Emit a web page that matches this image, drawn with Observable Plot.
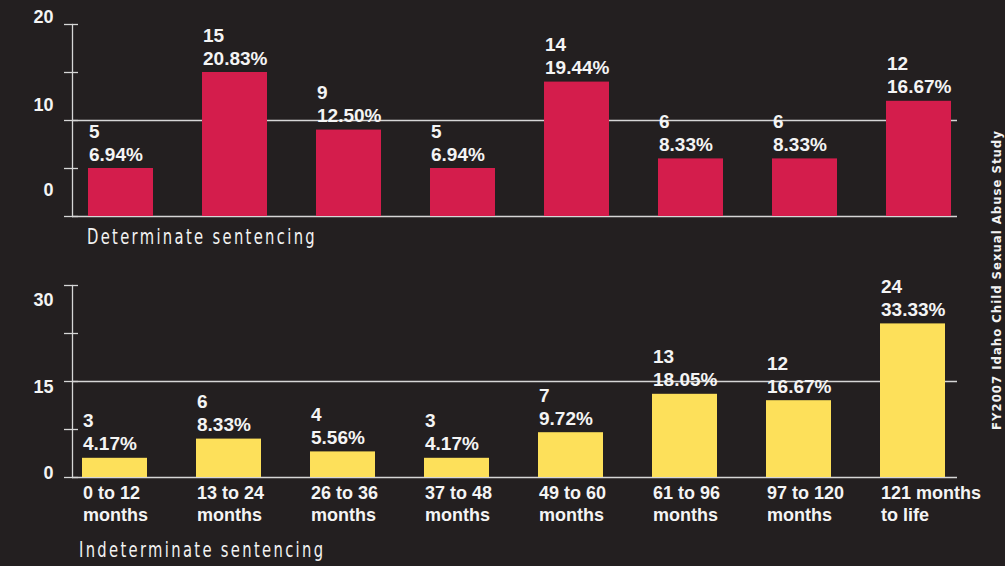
<!DOCTYPE html>
<html>
<head>
<meta charset="utf-8">
<script src="https://cdn.jsdelivr.net/npm/d3@7"></script>
<script src="https://cdn.jsdelivr.net/npm/@observablehq/plot@0.6"></script>
<style>
  html, body { margin: 0; padding: 0; background: #231f20; }
  #wrap { position: relative; width: 1005px; height: 566px; background: #231f20; overflow: hidden; }
  .panel { position: absolute; left: 0; }
  .cap { position: absolute; color: #f2f2f2; font-family: "Liberation Sans Narrow", "DejaVu Sans Condensed", "Liberation Sans", sans-serif; font-size: 21px; line-height: 21px; letter-spacing: 3px; white-space: nowrap; transform: scaleX(0.78); transform-origin: left center; }
  #side { position: absolute; left: 996px; top: 280px; transform: translate(-50%, -50%) rotate(-90deg); color: #f2f2f2; font-family: "Liberation Sans Narrow", "DejaVu Sans Condensed", "Liberation Sans", sans-serif; font-weight: bold; font-size: 13px; line-height: 13px; letter-spacing: 1px; white-space: nowrap; }
</style>
</head>
<body>
<div id="wrap">
  <div id="top" class="panel" style="top:0px"></div>
  <div class="cap" style="left:87px; top:227px">Determinate sentencing</div>
  <div id="bottom" class="panel" style="top:260px"></div>
  <div class="cap" style="left:79px; top:540px">Indeterminate sentencing</div>
  <div id="side">FY2007 Idaho Child Sexual Abuse Study</div>
</div>
<script>
// ---- data ----
const categories = ["0-12", "13-24", "26-36", "37-48", "49-60", "61-96", "97-120", "121-life"];
const categoryLabels = ["0 to 12\nmonths", "13 to 24\nmonths", "26 to 36\nmonths", "37 to 48\nmonths", "49 to 60\nmonths", "61 to 96\nmonths", "97 to 120\nmonths", "121 months\nto life"];
const determinateCounts = [5, 15, 9, 5, 14, 6, 6, 12];
const determinatePct = ["6.94%", "20.83%", "12.50%", "6.94%", "19.44%", "8.33%", "8.33%", "16.67%"];
const indeterminateCounts = [3, 6, 4, 3, 7, 13, 12, 24];
const indeterminatePct = ["4.17%", "8.33%", "5.56%", "4.17%", "9.72%", "18.05%", "16.67%", "33.33%"];
const determinateTicks = [0, 5, 10, 15, 20];
const determinateTickLabels = [0, 10, 20];
const indeterminateTicks = [0, 7.5, 15, 22.5, 30];
const indeterminateTickLabels = [0, 15, 30];

const detData = categories.map((c, i) => ({cat: c, label: categoryLabels[i], count: determinateCounts[i], pct: determinatePct[i]}));
const indData = categories.map((c, i) => ({cat: c, label: categoryLabels[i], count: indeterminateCounts[i], pct: indeterminatePct[i]}));

const FONT = "Liberation Sans, Arial, Helvetica, sans-serif";
const WHITE = "#f4f4f4";
const LINE = "#d6d6d6";

function panel({data, color, yMax, ticks, tickLabels, labelDys, gridAt, height, marginTop, marginBottom, xRange, showCats}) {
  const marks = [
    Plot.frame({anchor: "left", stroke: LINE, strokeWidth: 1.3}),
    Plot.ruleY([0, gridAt], {stroke: LINE, strokeWidth: 1.3}),
    Plot.axisY({ticks, tickSize: 14, dx: 6, tickFormat: () => "", label: null, stroke: LINE, strokeWidth: 1.3}),
    ...tickLabels.map((v, i) => Plot.axisY({ticks: [v], tickSize: 0, tickPadding: 19, dy: labelDys[i], label: null, fontSize: 18, fontWeight: "bold", fill: WHITE})),
    Plot.barY(data, {x: "cat", y: "count", fill: color}),
    Plot.text(data, {x: "cat", y: "count", text: d => String(d.count), textAnchor: "start", lineAnchor: "bottom", dx: -32, dy: -31, fontSize: 19, fontWeight: "bold", fill: WHITE, ariaLabel: "count"}),
    Plot.text(data, {x: "cat", y: "count", text: "pct", textAnchor: "start", lineAnchor: "bottom", dx: -32, dy: -8, fontSize: 19, fontWeight: "bold", fill: WHITE, ariaLabel: "pct"})
  ];
  if (showCats) {
    marks.push(Plot.text(data, {x: "cat", text: "label", frameAnchor: "bottom", lineAnchor: "top", textAnchor: "start", dx: -32, dy: 6, fontSize: 18, fontWeight: "bold", lineHeight: 1.22, fill: WHITE, ariaLabel: "cats"}));
  }
  const p = Plot.plot({
    width: 1005,
    height,
    marginTop,
    marginBottom,
    marginLeft: 72,
    marginRight: 48,
    style: {background: "transparent", color: WHITE, fontFamily: FONT, overflow: "visible"},
    x: {domain: categories, range: xRange, paddingInner: 0.43, paddingOuter: 0.215, axis: null},
    y: {domain: [0, yMax]},
    marks
  });
  p.querySelectorAll('g[aria-label="count"], g[aria-label="pct"]').forEach(g => g.setAttribute("letter-spacing", "0.9"));
  p.querySelectorAll('g[aria-label="cats"]').forEach(g => { g.setAttribute("letter-spacing", "0.5"); g.setAttribute("word-spacing", "3"); });
  // lighter percent sign, as in the original
  p.querySelectorAll('g[aria-label="pct"] text').forEach(t => {
    const s = t.textContent;
    if (s.endsWith("%")) {
      t.textContent = s.slice(0, -1);
      const ts = document.createElementNS("http://www.w3.org/2000/svg", "tspan");
      ts.setAttribute("font-weight", "normal");
      ts.textContent = "%";
      t.appendChild(ts);
    }
  });
  return p;
}

document.getElementById("top").appendChild(panel({
  data: detData, color: "#d41d4c", yMax: 20, ticks: determinateTicks, tickLabels: determinateTickLabels, labelDys: [-26, -15, -7],
  gridAt: 10, height: 232, marginTop: 24, marginBottom: 16, xRange: [63, 975], showCats: false
}));
document.getElementById("bottom").appendChild(panel({
  data: indData, color: "#fde05a", yMax: 30, ticks: indeterminateTicks, tickLabels: indeterminateTickLabels, labelDys: [-4, 6, 15],
  gridAt: 15, height: 270, marginTop: 25, marginBottom: 53, xRange: [56, 970], showCats: true
}));
</script>
</body>
</html>
